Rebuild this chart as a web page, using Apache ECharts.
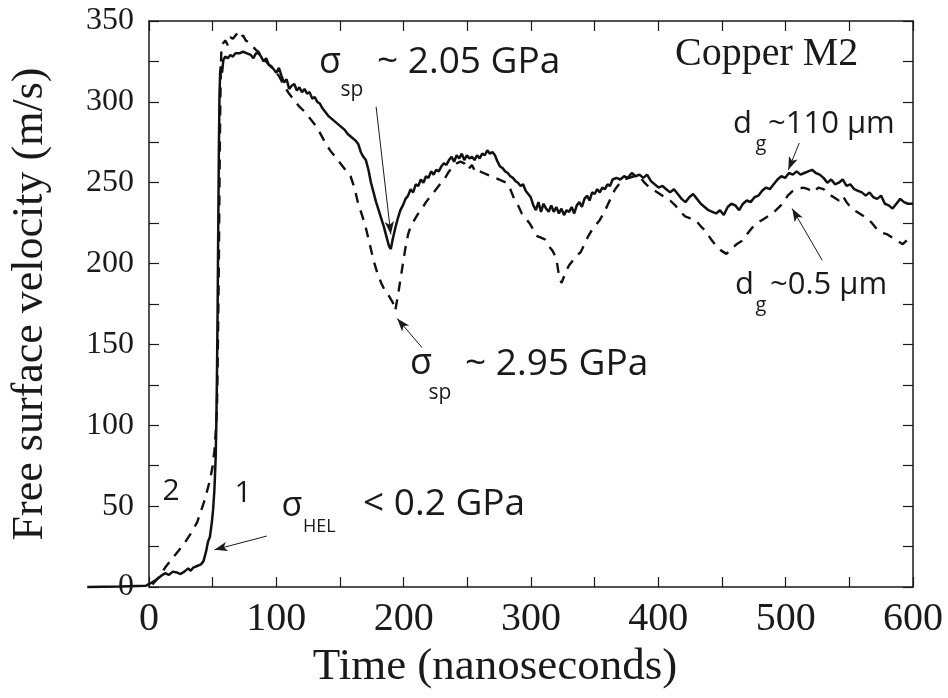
<!DOCTYPE html>
<html>
<head>
<meta charset="utf-8">
<script src="https://cdn.jsdelivr.net/npm/echarts@6/dist/echarts.min.js"></script>
<style>
html,body{margin:0;padding:0;background:#fff;}
#chart{width:948px;height:698px;}
</style>
</head>
<body>
<div id="chart"></div>
<script>
// Tick labels
const xTickLabels = [0, 100, 200, 300, 400, 500, 600];
const yTickLabels = [0, 50, 100, 150, 200, 250, 300, 350];

// Curve 1 (solid, d_g ~ 110 um): [time ns, velocity m/s]
const solidTime = [-46,-20,0,4,8,12,15,18,21,24,27,30,33,35,37,40,43,45,47,48.5,50,51.5,52.5,53.5,54.5,55,55.5,56,56.5,57,57.5,58,58.5,59.5,60.5,62,64,66,68,70,73,76,79,82,84,86,88,90,92,94,96,98,100,102,104,106,108,110,112,114,116,118,120,122,124,126,128,130,132,134,136,138,140,143,146,149,152,155,158,161,164,166,168,170,172,174,176,178,180,182,184,186,188,190,191.5,193,195,197,199,201,203,205,207,209,211,213,215,217,219,221,223,225,227,229,231,233,235,237,239,241,243,245,247,249,251,253,255,257,259,261,263,265,267,269,271,273,275,277,279,281,283,285,287,289,291,293,295,297,299,301,303,305,307,309,311,313,315,317,319,321,323,325,327,329,331,333,335,337,339,341,343,345,347,349,351,353,355,357,359,361,363,365,368,371,374,377,380,383,386,389,392,395,398,401,404,407,410,413,416,419,422,425,428,431,434,437,440,443,446,449,452,455,458,461,464,467,470,473,476,479,482,485,488,491,494,497,500,503,506,509,512,515,518,521,524,527,530,533,536,539,542,545,548,551,554,557,560,563,566,569,572,575,578,581,584,587,590,593,596,600];
const solidVel = [0,0.3,0.8,2.5,4.5,7,8.5,7.5,9.5,9,8,9.5,11.5,10,12,13,14,16,22,28,31,40,48,60,80,100,130,170,220,270,305,318,322,318,326,328,327,329,328,330,330,331,330,329,327,330,330,328,325,327,323,322,320,318,321,316,312,314,308,310,311,307,309,306,308,305,306,302,303,300,299,296,294,291,289,287,285,283,280,278,276,274,269,266,264,258,250,244,238,233,228,223,217,211,209,215,222,228,233,236,240,242,246,244,249,248,252,250,254,253,257,255,258,257,260,262,261,264,266,263,267,265,268,264,267,265,266,264,267,265,268,267,270,268,269,267,263,260,259,257,256,254,253,251,250,248,249,245,243,241,236,233,238,232,237,234,232,236,232,235,231,234,230,233,232,235,231,236,238,235,240,242,239,244,243,246,244,247,246,249,248,252,253,252,254,253,256,254,255,253,255,251,249,247,248,246,244,246,243,240,238,241,243,240,237,235,233,232,231,233,230,235,237,236,233,237,239,238,241,242,245,247,246,249,252,254,253,256,255,257,255,256,257,258,256,255,253,250,252,249,250,252,248,249,246,245,244,242,244,241,240,242,237,236,234,237,240,238,237,237];

// Curve 2 (dashed, d_g ~ 0.5 um): [time ns, velocity m/s]
const dashTime = [5,10,15,20,25,30,35,40,43,46,48,50,52,53.5,54.5,55.5,56,56.5,57,57.5,58,58.5,59,60,62,64,66,68,70,72,74,76,78,80,82,84,86,88,90,93,96,100,104,108,112,116,120,124,128,132,136,140,144,148,152,156,160,163,166,169,172,175,178,181,184,187,190,193,195,197,199,201,203,205,207,210,213,216,219,222,225,228,231,234,237,240,243,246,249,252,255,258,261,264,267,270,273,276,279,282,285,288,291,294,297,300,303,306,309,312,315,318,321,323,325,327,329,331,334,337,340,343,346,349,352,355,358,361,364,367,370,374,378,382,386,390,394,398,402,406,410,414,418,422,426,430,434,438,442,446,450,454,458,462,466,470,474,478,482,486,490,494,498,502,506,510,514,518,522,526,530,534,538,542,545,548,552,556,560,564,568,572,576,580,584,588,592,596,600];
const dashVel = [1.5,6,12,17,22,27,33,40,47,54,60,66,74,84,95,110,135,165,200,250,290,320,333,336,338,335,340,339,341,343,340,341,338,337,335,334,332,331,328,326,323,320,316,310,305,301,297,294,290,286,281,275,270,266,262,258,254,247,237,230,222,212,202,194,188,183,180,176,171,180,190,200,210,218,223,227,231,234,238,241,244,247,250,253,257,260,262,263,262,258,261,256,257,256,255,254,253,252,251,250,246,240,236,231,228,225,221,217,216,215,211,208,203,193,188,192,196,199,202,205,207,212,217,221,224,227,231,236,241,246,249,252,253,254,254,250,247,245,243,241,239,236,232,229,228,227,223,220,215,211,208,206,209,212,214,218,222,225,227,229,231,234,237,242,245,246,247,246,244,247,246,243,241,239,242,238,234,232,230,228,225,221,219,218,216,214,212,215,216];

// Annotation arrows in data coordinates: [fromX, fromY, toX, toY] (arrow head at "to")
const arrows = [
  [180, 297, 191.5, 218],
  [216, 148, 196.5, 166],
  [94.5, 31.5, 53.5, 23],
  [511, 274.5, 502.5, 258],
  [529, 202, 505.5, 234]
];

const pair = (xs, ys) => xs.map((x, i) => [x, ys[i]]);

const SERIF = '"Liberation Serif", "Times New Roman", serif';
const SANS = '"Open Sans", "Noto Sans", sans-serif';

// layout of the plot frame
const GL = 146, GR = 35, GT = 21, GB = 111, W = 948;
const XMIN = 0, XMAX = 600, XPRE = -50;   // data grid extends to XPRE so the pre-trigger baseline is drawn
const pxPerNs = (W - GL - GR) / (XMAX - XMIN);
const GL2 = GL - (XMIN - XPRE) * pxPerNs;

const chart = echarts.init(document.getElementById('chart'), null, {renderer: 'canvas'});

function txt(text, x, y, size, family, align) {
  return {
    type: 'text', x: x, y: y, silent: true,
    style: {
      text: text, fill: '#1a1a1a',
      font: size + 'px ' + family,
      fontSize: size, fontFamily: family,
      textAlign: align || 'left', align: align || 'left',
      textVerticalAlign: 'middle', verticalAlign: 'middle'
    }
  };
}

const axisCommon = () => ({
  axisLine: {show: true, onZero: false, lineStyle: {color: '#1a1a1a', width: 1.5}},
  axisTick: {show: true, inside: true, length: 10, lineStyle: {color: '#1a1a1a', width: 1.2}},
  splitLine: {show: false}
});

const option = {
  backgroundColor: '#ffffff',
  animation: false,
  grid: [
    {left: GL, right: GR, top: GT, bottom: GB, containLabel: false},
    {left: GL2, right: GR, top: GT, bottom: GB, containLabel: false, show: false}
  ],
  xAxis: [
    Object.assign({
      type: 'value', gridIndex: 0, min: XMIN, max: XMAX, interval: 50, position: 'bottom',
      name: 'Time (nanoseconds)', nameLocation: 'middle', nameGap: 58,
      nameTextStyle: {fontFamily: SERIF, fontSize: 45, color: '#1a1a1a', padding: [0, 72, 0, 0]},
      axisLabel: {
        margin: 12, fontFamily: SERIF, fontSize: 40, color: '#1a1a1a',
        formatter: v => xTickLabels.includes(v) ? String(v) : ''
      }
    }, axisCommon()),
    Object.assign({
      type: 'value', gridIndex: 0, min: XMIN, max: XMAX, interval: 50, position: 'top',
      axisLabel: {show: false}
    }, axisCommon()),
    {type: 'value', gridIndex: 1, min: XPRE, max: XMAX, show: false}
  ],
  yAxis: [
    Object.assign({
      type: 'value', gridIndex: 0, min: 0, max: 350, interval: 25, position: 'left',
      name: 'Free surface velocity (m/s)', nameLocation: 'middle', nameGap: 97, nameRotate: 90,
      nameTextStyle: {fontFamily: SERIF, fontSize: 44, color: '#1a1a1a'},
      axisLabel: {
        margin: 15, fontFamily: SERIF, fontSize: 32, color: '#1a1a1a',
        formatter: v => yTickLabels.includes(v) ? String(v) : ''
      }
    }, axisCommon()),
    Object.assign({
      type: 'value', gridIndex: 0, min: 0, max: 350, interval: 25, position: 'right',
      axisLabel: {show: false}
    }, axisCommon()),
    {type: 'value', gridIndex: 1, min: 0, max: 350, show: false}
  ],
  series: [
    {
      name: '1', type: 'line', xAxisIndex: 2, yAxisIndex: 2,
      data: pair(solidTime, solidVel), showSymbol: false, symbol: 'none',
      clip: false, smooth: false,
      lineStyle: {color: '#111', width: 2.5, type: 'solid'},
      emphasis: {disabled: true},
      markLine: {
        silent: true, symbol: ['none', 'arrow'], symbolSize: [7, 13],
        label: {show: false},
        lineStyle: {color: '#1a1a1a', width: 1, type: 'solid'},
        emphasis: {disabled: true},
        data: arrows.map(a => [{coord: [a[0], a[1]]}, {coord: [a[2], a[3]]}])
      }
    },
    {
      name: '2', type: 'line', xAxisIndex: 2, yAxisIndex: 2,
      data: pair(dashTime, dashVel), showSymbol: false, symbol: 'none',
      clip: false, smooth: false,
      lineStyle: {color: '#111', width: 2.4, type: [10, 8]},
      emphasis: {disabled: true}
    }
  ],
  graphic: {
    elements: [
      txt('Copper M2', 675, 54, 40, SERIF),
      txt('σ', 330, 63, 36, SANS, 'center'),
      txt('sp', 352, 90, 21, SANS, 'center'),
      txt('~ 2.05 GPa', 377, 62, 37, SANS),
      txt('σ', 421, 364, 36, SANS, 'center'),
      txt('sp', 440, 393, 21, SANS, 'center'),
      txt('~ 2.95 GPa', 465, 364, 37, SANS),
      txt('σ', 292, 506, 34, SANS, 'center'),
      txt('HEL', 303, 527, 18, SANS),
      txt('< 0.2 GPa', 363, 504, 37, SANS),
      txt('1', 243, 493, 30, SANS, 'center'),
      txt('2', 171, 491, 30, SANS, 'center'),
      txt('d', 733, 124, 31, SANS),
      txt('g', 761, 144, 20, SANS, 'center'),
      txt('~110 μm', 768, 124, 31, SANS),
      txt('d', 735, 285, 31, SANS),
      txt('g', 761, 305, 20, SANS, 'center'),
      txt('~0.5 μm', 770, 285, 31, SANS)
    ]
  }
};

chart.setOption(option);
</script>
</body>
</html>
